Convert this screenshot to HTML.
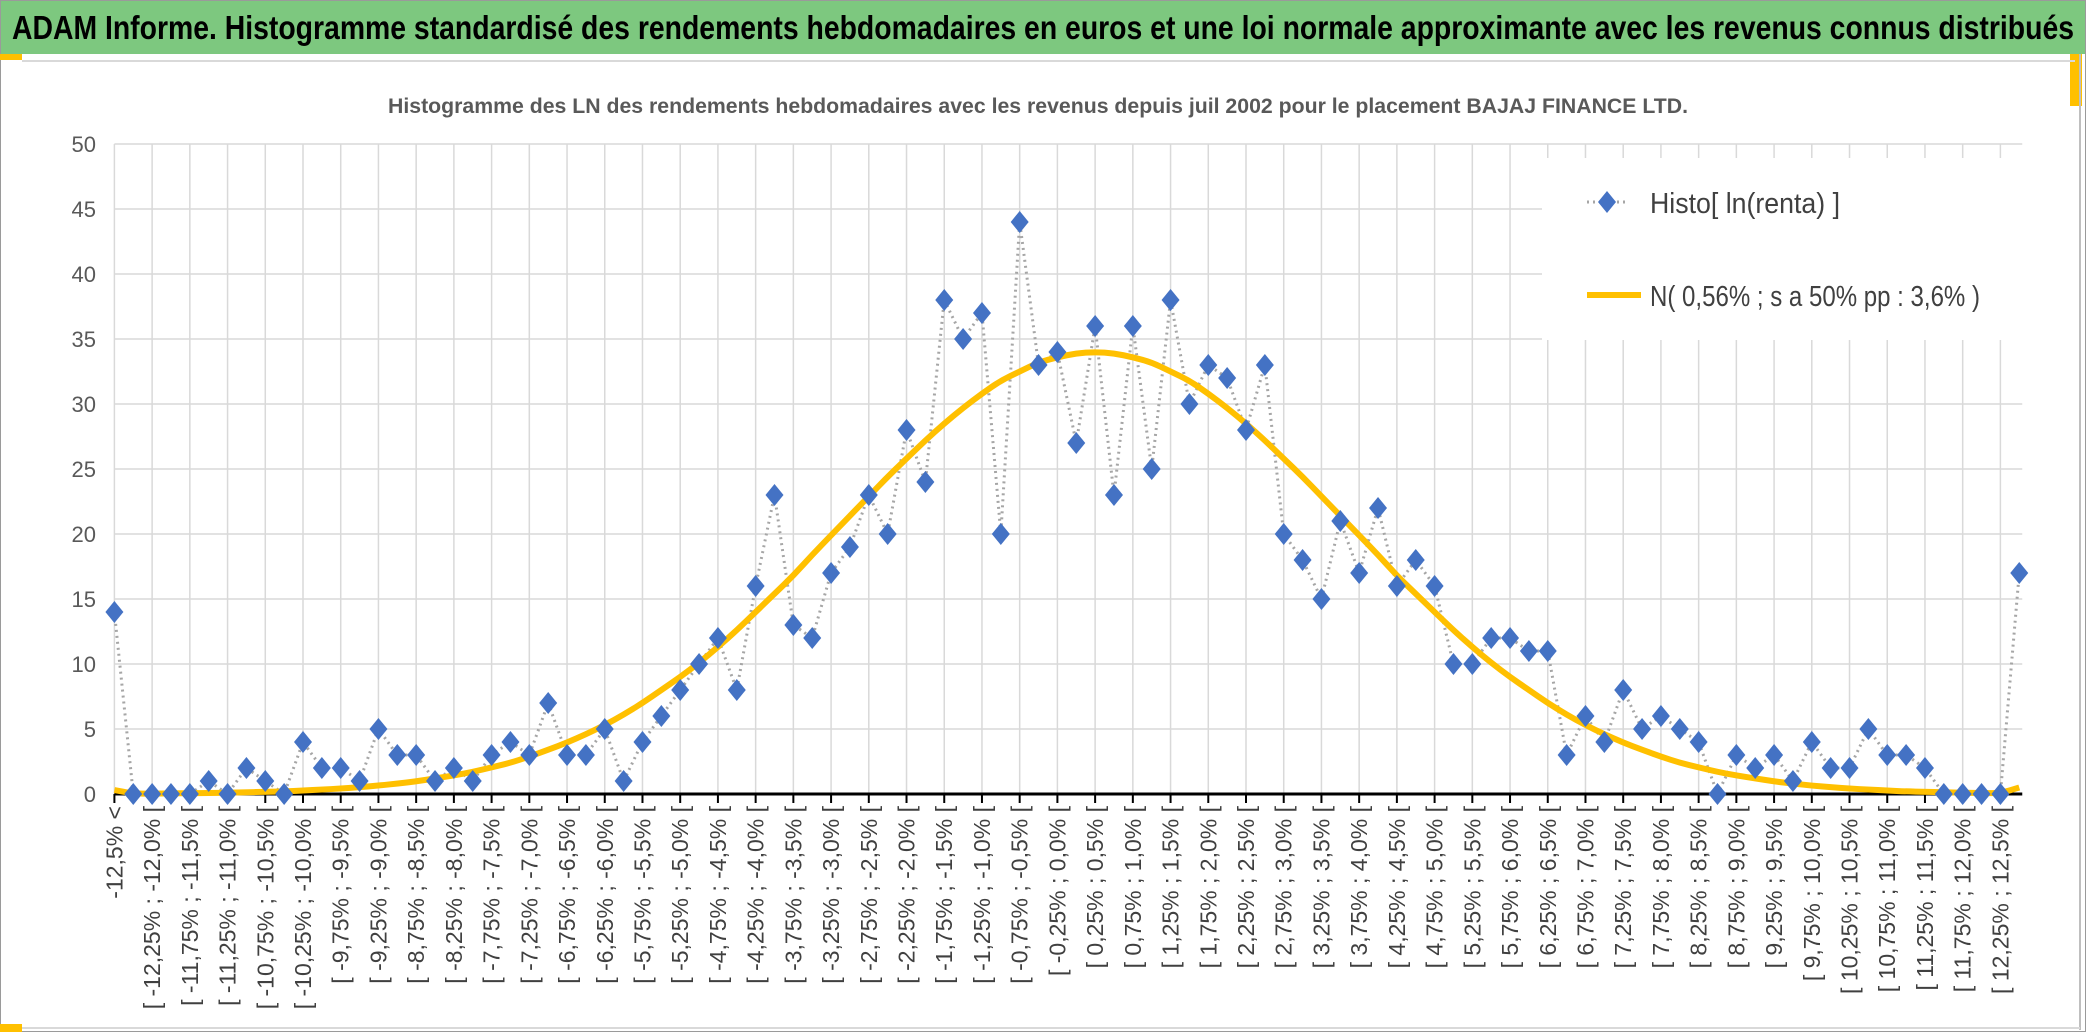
<!DOCTYPE html>
<html><head><meta charset="utf-8"><style>
html,body{margin:0;padding:0;background:#fff;}
svg{display:block;font-family:"Liberation Sans",sans-serif;}
</style></head><body>
<svg id="chart" width="2086" height="1033" viewBox="0 0 2086 1033" xmlns="http://www.w3.org/2000/svg">
<rect x="0" y="0" width="2086" height="54" fill="#7DC87F"/>
<rect x="0.5" y="0.5" width="2085" height="1031" fill="none" stroke="#9a9a9a" stroke-width="1"/>
<text x="12" y="39" font-size="33" font-weight="bold" fill="#000" textLength="2062" lengthAdjust="spacingAndGlyphs">ADAM Informe. Histogramme standardisé des rendements hebdomadaires en euros et une loi normale approximante avec les revenus connus distribués</text>
<rect x="0" y="54" width="22" height="6" fill="#FFC000"/>
<rect x="2070" y="54" width="12" height="52" fill="#FFC000"/>
<line x1="22" y1="61" x2="2075" y2="61" stroke="#d9d9d9" stroke-width="2"/>
<line x1="2080" y1="54" x2="2080" y2="1030" stroke="#bfbfbf" stroke-width="2"/>
<line x1="0" y1="1028" x2="2080" y2="1028" stroke="#d9d9d9" stroke-width="2"/>
<rect x="0" y="1024" width="22" height="8" fill="#FFC000"/>
<text x="388" y="113" font-size="21" font-weight="bold" fill="#595959" textLength="1300" lengthAdjust="spacingAndGlyphs">Histogramme des LN des rendements hebdomadaires avec les revenus depuis juil 2002 pour le placement BAJAJ FINANCE LTD.</text>
<g id="grid"></g>
<g id="yaxis"></g>
<g id="xaxis"></g>
<g id="series"></g>
<g>
<rect x="1542" y="158" width="510" height="182" fill="#fff"/>
<g>
<line x1="1587" y1="202" x2="1627" y2="202" stroke="#a6a6a6" stroke-width="3" stroke-dasharray="2,4"/>
<path d="M1607,191 L1616,202 L1607,213 L1598,202 Z" fill="#4472C4"/>
<text x="1650" y="213" font-size="29" fill="#404040" textLength="190" lengthAdjust="spacingAndGlyphs">Histo[ ln(renta) ]</text>
</g>
<g>
<line x1="1587" y1="295" x2="1641" y2="295" stroke="#FFC000" stroke-width="6"/>
<text x="1650" y="306" font-size="29" fill="#404040" textLength="330" lengthAdjust="spacingAndGlyphs">N( 0,56% ; s a 50% pp : 3,6% )</text>
</g>
</g>
</svg>
<script>
const histoValues = [14,0,0,0,0,1,0,2,1,0,4,2,2,1,5,3,3,1,2,1,3,4,3,7,3,3,5,1,4,6,8,10,12,8,16,23,13,12,17,19,23,20,28,24,38,35,37,20,44,33,34,27,36,23,36,25,38,30,33,32,28,33,20,18,15,21,17,22,16,18,16,10,10,12,12,11,11,3,6,4,8,5,6,5,4,0,3,2,3,1,4,2,2,5,3,3,2,0,0,0,0,17];
const normalValues = [0.3,0.03,0.03,0.05,0.06,0.08,0.1,0.13,0.17,0.2,0.27,0.34,0.42,0.52,0.65,0.8,0.97,1.2,1.43,1.7,2.05,2.4,2.88,3.4,3.95,4.6,5.3,6.1,7.0,8.0,9.0,10.1,11.3,12.6,14.0,15.4,16.8,18.4,19.9,21.4,22.9,24.4,25.8,27.2,28.5,29.7,30.8,31.8,32.5,33.2,33.6,33.9,34,33.9,33.6,33.2,32.5,31.8,30.8,29.7,28.5,27.2,25.8,24.4,22.9,21.4,19.9,18.4,16.8,15.4,14.0,12.6,11.3,10.1,9.0,8.0,7.0,6.1,5.3,4.6,3.95,3.4,2.88,2.4,2.05,1.7,1.43,1.2,0.97,0.8,0.65,0.52,0.42,0.34,0.27,0.2,0.17,0.13,0.1,0.08,0.06,0.5];
const yTicks = [0,5,10,15,20,25,30,35,40,45,50];
const binStart = -12.5;
const binWidth = 0.25;

const NS = "http://www.w3.org/2000/svg";
const X0 = 114.4, XSTEP = 18.86, Y0 = 794, YTOP = 144, YMAX = 50;
function xPos(i){ return X0 + i * XSTEP; }
function yPos(v){ return Y0 - v * (Y0 - YTOP) / YMAX; }
function mk(tag, attrs, parent){ const e = document.createElementNS(NS, tag); for (const k in attrs) e.setAttribute(k, attrs[k]); parent.appendChild(e); return e; }
function fmt(v){ let s = Math.abs(v % 0.5) > 1e-9 ? v.toFixed(2) : v.toFixed(1); if (s === "-0.0") s = "0.0"; return s.replace('.', ',') + '%'; }

const grid = document.getElementById('grid');
const yaxis = document.getElementById('yaxis');
const xaxis = document.getElementById('xaxis');
const series = document.getElementById('series');
const n = histoValues.length;
const xEnd = xPos(n - 1) + 3;

yTicks.forEach(t => {
  if (t > 0) {
    const g = mk('line', {x1: X0, x2: xEnd, y1: yPos(t), y2: yPos(t), stroke: '#d9d9d9', 'stroke-width': 1.5}, grid);
    
    
  }
  const tx = mk('text', {x: 96, y: yPos(t) + 8, 'font-size': 22, fill: '#595959', 'text-anchor': 'end'}, yaxis);
  tx.textContent = t;
  
  
});

for (let i = 0; i < n; i += 2) {
  const g = mk('line', {x1: xPos(i), x2: xPos(i), y1: YTOP, y2: Y0, stroke: '#d9d9d9', 'stroke-width': 1.5}, grid);
  
  
  const tk = mk('line', {x1: xPos(i), x2: xPos(i), y1: Y0, y2: Y0 + 9, stroke: '#000', 'stroke-width': 2}, xaxis);
  
  
  let label;
  if (i === 0) label = fmt(binStart) + ' <';
  else { const a = binStart + binWidth * (i - 1); label = '[ ' + fmt(a) + ' ; ' + fmt(a + binWidth) + ' ['; }
  const tx = mk('text', {transform: 'translate(' + (xPos(i) + 8) + ',' + 806 + ') rotate(-90)', 'font-size': 23, fill: '#404040', 'text-anchor': 'end'}, xaxis);
  tx.textContent = label;
  
  
}
const ax = mk('line', {x1: X0, x2: xEnd, y1: Y0, y2: Y0, stroke: '#000', 'stroke-width': 3}, xaxis);



const hp = mk('polyline', {points: histoValues.map((v, i) => xPos(i) + ',' + yPos(v)).join(' '), fill: 'none', stroke: '#a6a6a6', 'stroke-width': 3, 'stroke-dasharray': '2,4'}, series);



let d = '';
normalValues.forEach((v, i) => {
  const x = xPos(i), y = yPos(v);
  if (i === 0) d = 'M' + x + ',' + y;
  else { const xp = xPos(i - 1), yp = yPos(normalValues[i - 1]); d += ' Q' + xp + ',' + yp + ' ' + ((xp + x) / 2) + ',' + ((yp + y) / 2); }
});
d += ' L' + xPos(n - 1) + ',' + yPos(normalValues[n - 1]);
const np = mk('path', {d: d, fill: 'none', stroke: '#FFC000', 'stroke-width': 6, 'stroke-linejoin': 'round'}, series);



histoValues.forEach((v, i) => {
  const x = xPos(i), y = yPos(v);
  const m = mk('path', {d: 'M' + x + ',' + (y - 11) + ' L' + (x + 9) + ',' + y + ' L' + x + ',' + (y + 11) + ' L' + (x - 9) + ',' + y + ' Z', fill: '#4472C4'}, series);
  
  
});
</script>
</body></html>
